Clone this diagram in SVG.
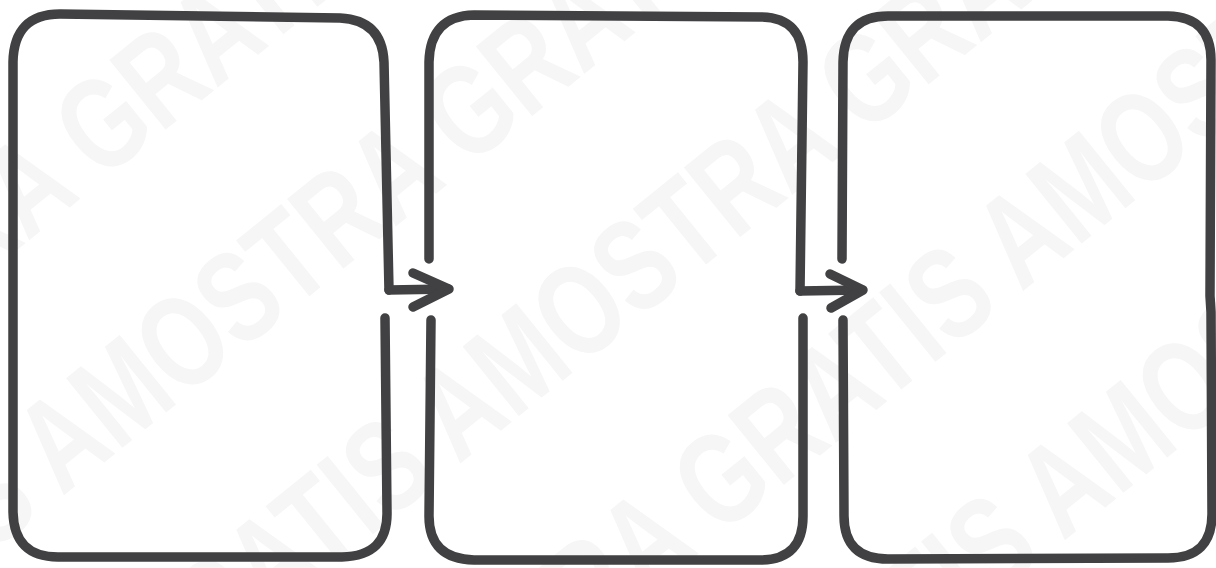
<svg xmlns="http://www.w3.org/2000/svg" width="1216" height="568" viewBox="0 0 1216 568">
  <style>
    .wm { font-family: "Liberation Sans", Arial, sans-serif; font-weight: bold; font-size: 130px; fill: #f6f6f6; }
    .box { fill: none; stroke: #414143; stroke-width: 9.5; stroke-linecap: round; stroke-linejoin: round; }
    .con { fill: none; stroke: #414143; stroke-width: 9.5; stroke-linecap: round; stroke-linejoin: round; }
  </style>
  <rect width="1216" height="568" fill="#ffffff"/>
  <g id="watermark" transform="rotate(-39) scale(0.758 1)">
    <text class="wm" x="-736" y="205">AMOSTRA GRATIS AMOSTRA GRATIS AMOSTRA GRATIS</text>
    <text class="wm" x="-1550" y="425">AMOSTRA GRATIS AMOSTRA GRATIS AMOSTRA GRATIS</text>
    <text class="wm" x="-1117" y="650">AMOSTRA GRATIS AMOSTRA GRATIS AMOSTRA GRATIS</text>
    <text class="wm" x="-397" y="870">AMOSTRA GRATIS AMOSTRA GRATIS AMOSTRA GRATIS</text>
    <text class="wm" x="-561" y="1090">AMOSTRA GRATIS AMOSTRA GRATIS AMOSTRA GRATIS</text>
  </g>
  <g id="box1">
    <path class="box" d="M389,290 L384,62 Q382,20 340,18 L60,14 Q14,14 13,62 L13,512 Q14,557 58,557 L342,557 Q388,556 387,512 L385,318"/>
  </g>
  <g id="box2">
    <path class="box" d="M429,259 L429,62 Q430,16 474,15 L762,17 Q803,18 803,62 L800,291"/>
    <path class="box" d="M431,320 L429,516 Q429,559 474,560 L762,560 Q803,559 803,516 L803,318"/>
  </g>
  <g id="box3">
    <path class="box" d="M842,259 L843,62 Q844,16 888,16 L1168,16 Q1211,17 1211,60 L1210,296 L1211,312 L1212,514 Q1212,558 1168,558 L888,559 Q844,559 844,516 L843,320"/>
  </g>
  <g id="connectors">
    <path class="con" d="M389,290 L448,289"/>
    <path class="con" d="M413,273 L449,289 L413,307"/>
    <path class="con" d="M800,291 L861,290"/>
    <path class="con" d="M830,274 L863,290 L831,308"/>
  </g>
</svg>
